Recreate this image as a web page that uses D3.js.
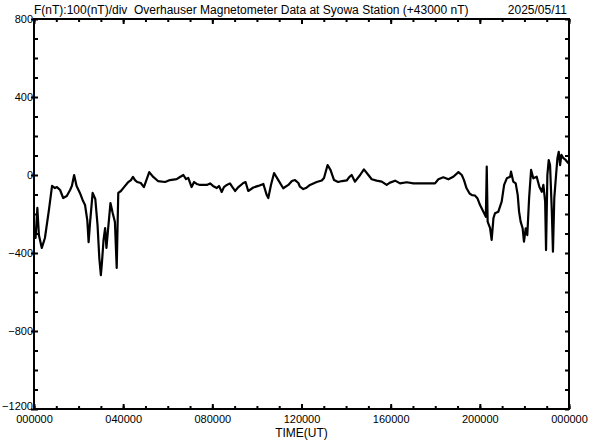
<!DOCTYPE html>
<html>
<head>
<meta charset="utf-8">
<script src="https://cdn.jsdelivr.net/npm/d3@7"></script>
<style>
  body { margin: 0; background: #fff; }
  svg { display: block; font-family: "Liberation Sans", Arial, sans-serif; }
  .axis path { display: none; }
  .axis line { stroke: #000; stroke-width: 2; }
  .axis text { fill: #000; font-size: 11px; }
  .title { white-space: pre; }
</style>
</head>
<body>
<svg id="chart" width="592" height="440"></svg>
<script>
// time of day in hours (UT)
var times = [
  0, 0.07, 0.15, 0.22, 0.35, 0.49, 0.67, 0.81, 0.94, 1.03, 1.17, 1.31, 1.47, 1.62, 1.70, 1.80, 1.91,
  2.06, 2.18, 2.29, 2.39, 2.45, 2.51, 2.63, 2.75, 2.85, 2.93, 3.00, 3.05, 3.12, 3.19, 3.25, 3.32,
  3.43, 3.53, 3.63, 3.71, 3.78, 3.90, 4.04, 4.23, 4.35, 4.44, 4.53, 4.63, 4.79, 4.93, 5.17, 5.35,
  5.56, 5.88, 6.10, 6.40, 6.55, 6.70, 6.82, 6.92, 7.07, 7.18, 7.30, 7.45, 7.60, 7.75, 7.90, 8.03,
  8.20, 8.30, 8.42, 8.52, 8.65, 8.79, 8.94, 9.02, 9.17, 9.39, 9.49, 9.61, 9.84, 10.06, 10.29, 10.44,
  10.51, 10.63, 10.77, 10.96, 11.18, 11.41, 11.57, 11.71, 11.86, 11.93, 12.08, 12.20, 12.38, 12.68,
  12.91, 13.01, 13.17, 13.30, 13.46, 13.64, 13.82, 14.03, 14.15, 14.25, 14.40, 14.63, 14.80, 15.00,
  15.15, 15.37, 15.60, 15.82, 15.97, 16.20, 16.42, 16.72, 17.02, 17.47, 17.99, 18.14, 18.36, 18.59,
  18.81, 19.04, 19.19, 19.29, 19.40, 19.54, 19.65, 19.78, 19.89, 20.01, 20.16, 20.27, 20.31, 20.35,
  20.46, 20.53, 20.61, 20.68, 20.83, 20.98, 21.09, 21.21, 21.36, 21.40, 21.50, 21.61, 21.70, 21.76,
  21.83, 21.92, 21.98, 22.06, 22.13, 22.21, 22.30, 22.40, 22.55, 22.67, 22.78, 22.85, 22.93, 22.97,
  23.03, 23.09, 23.15, 23.23, 23.28, 23.34, 23.42, 23.48, 23.54, 23.60, 23.66, 23.75, 23.85, 23.97
];
// F minus 43000 nT
var values = [
  -270, -323, -169, -308, -374, -323, -179, -56, -67, -62, -77, -118, -108, -77, -56, 0, -56,
  -92, -128, -154, -231, -344, -251, -92, -123, -256, -426, -513, -446, -333, -272, -374, -282,
  -144, -195, -241, -477, -92, -82, -62, -36, -26, -10, -26, -36, -41, -62, 15, -10,
  -31, -36, -26, -21, -10, 0, -21, -15, -62, -36, -46, -51, -51, -51, -43, -56,
  -67, -56, -87, -62, -51, -43, -68, -82, -62, -41, -36, -82, -64, -56, -46, -103,
  -118, -51, 10, -26, -68, -51, -31, -26, -41, -60, -72, -67, -51, -36,
  -28, -15, 51, 26, -26, -36, -31, -28, -10, 0, -34, 0, 29, 0,
  -22, -29, -34, -51, -39, -29, -43, -37, -43, -43, -43, -22, -12, -22,
  -9, 15, 0, -26, -67, -95, -103, -105, -119, -154, -188, -214, 43, -239,
  -273, -333, -222, -196, -188, -137, -51, -17, -9, 17, -34, -43, -103, -188,
  -239, -273, -342, -273, -308, -119, 26, -17, -9, -60, -86, -51, -137, -385,
  0, 77, 51, -188, -393, -119, 0, 86, 119, 51, 103, 86, 77, 60
];
var xMajor = [0, 4, 8, 12, 16, 20, 24];
var xMinor = d3.range(0, 25, 1);
var yMajor = [-1200, -800, -400, 0, 400, 800];
var yMinor = d3.range(-1200, 801, 100);
var title = "F(nT):100(nT)/div  Overhauser Magnetometer Data at Syowa Station (+43000 nT)";
var dateLabel = "2025/05/11";
var xTitle = "TIME(UT)";

var svg = d3.select("#chart"),
    margin = {top: 19, right: 23, bottom: 31, left: 34},
    width = +svg.attr("width") - margin.left - margin.right,
    height = +svg.attr("height") - margin.top - margin.bottom,
    g = svg.append("g").attr("transform", "translate(" + margin.left + "," + margin.top + ")");

var x = d3.scaleLinear().domain([0, 24]).range([0, width]);
var y = d3.scaleLinear().domain([-1200, 800]).range([height, 0]);

function hhmmss(h) { return d3.format("02")(h % 24) + "0000"; }

// minor ticks on all four sides, pointing inward
g.append("g").attr("class", "axis").attr("transform", "translate(0," + height + ")")
  .call(d3.axisBottom(x).tickValues(xMinor).tickSize(-3).tickFormat(""));
g.append("g").attr("class", "axis")
  .call(d3.axisTop(x).tickValues(xMinor).tickSize(-3).tickFormat(""));
g.append("g").attr("class", "axis")
  .call(d3.axisLeft(y).tickValues(yMinor).tickSize(-4).tickFormat(""));
g.append("g").attr("class", "axis").attr("transform", "translate(" + width + ",0)")
  .call(d3.axisRight(y).tickValues(yMinor).tickSize(-4).tickFormat(""));

// major ticks with labels
g.append("g").attr("class", "axis").attr("transform", "translate(0," + height + ")")
  .call(d3.axisBottom(x).tickValues(xMajor).tickSize(-5).tickPadding(6).tickFormat(hhmmss));
g.append("g").attr("class", "axis")
  .call(d3.axisTop(x).tickValues(xMajor).tickSize(-5).tickFormat(""));
var yAxis = g.append("g").attr("class", "axis")
  .call(d3.axisLeft(y).tickValues(yMajor).tickSize(3).tickPadding(-2).tickFormat(d3.format("d")));
// lowest label sits a little above its tick, as in the original
yAxis.selectAll(".tick text").filter(function(d) { return d === -1200; }).attr("dy", "0.05em");

// frame
g.append("rect")
  .attr("width", width).attr("height", height)
  .attr("fill", "none").attr("stroke", "#000").attr("stroke-width", 2);

var line = d3.line()
  .x(function(d) { return x(d[0]); })
  .y(function(d) { return y(d[1]); });

g.append("path")
  .datum(d3.zip(times, values))
  .attr("d", line)
  .attr("fill", "none")
  .attr("stroke", "#000")
  .attr("stroke-width", 2.2)
  .attr("stroke-linejoin", "round");

svg.append("text")
  .attr("class", "title")
  .attr("x", margin.left).attr("y", 14)
  .attr("font-size", 12)
  .text(title);
svg.append("text")
  .attr("x", margin.left + width - 2).attr("y", 14)
  .attr("text-anchor", "end")
  .attr("font-size", 12)
  .text(dateLabel);
svg.append("text")
  .attr("x", margin.left + width / 2).attr("y", 437)
  .attr("text-anchor", "middle")
  .attr("font-size", 12)
  .text(xTitle);
</script>
</body>
</html>
